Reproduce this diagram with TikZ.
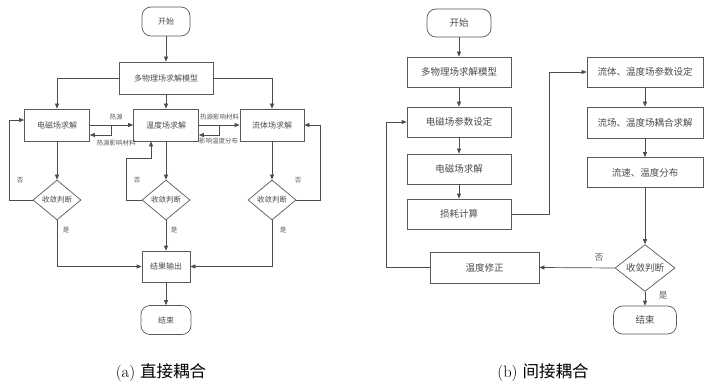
\documentclass[tikz,border=0pt]{standalone}
\usepackage{fontspec}
\newfontfamily\cjk{Noto Sans CJK SC}
\usetikzlibrary{positioning,arrows.meta,shapes.geometric,calc}
\begin{document}
\begin{tikzpicture}[x=1pt,y=-1pt,
  bx/.style={draw=black!65,fill=white,line width=0.7pt,text=black!70,inner sep=1pt,font=\cjk\fontsize{8}{9}\selectfont},
  bxb/.style={bx,font=\cjk\fontsize{9.5}{11}\selectfont},
  tm/.style={rounded corners=9pt},
  jd/.style={diamond,inner sep=0pt},
  lb/.style={text=black!65,inner sep=0pt,font=\cjk\fontsize{6.5}{7}\selectfont},
  lbb/.style={lb,font=\cjk\fontsize{8.5}{9}\selectfont},
  captxt/.style={font=\fontsize{16.5}{18}\selectfont},
  ar/.style={-{Triangle[length=5pt,width=4pt]},draw=black!70,line width=0.7pt}]
\useasboundingbox (0,0) rectangle (717,390);
% (a) direct coupling
\node[bx,tm,minimum width=48pt,minimum height=29pt] (startA) at (166,21.5) {开始};
\node[bx,minimum width=94pt,minimum height=32pt] (modelA) at (166,78) {多物理场求解模型};
\node[bx,minimum width=65pt,minimum height=32pt] (emA) at (57,125) {电磁场求解};
\node[bx,minimum width=65pt,minimum height=32pt] (thA) at (166,125) {温度场求解};
\node[bx,minimum width=64pt,minimum height=32pt] (flA) at (272,125) {流体场求解};
\node[bx,jd,minimum width=48pt,minimum height=40pt,font=\cjk\fontsize{7.5}{8}\selectfont] (jA1) at (57,200) {收敛判断};
\node[bx,jd,minimum width=48pt,minimum height=40pt,font=\cjk\fontsize{7.5}{8}\selectfont] (jA2) at (166,200) {收敛判断};
\node[bx,jd,minimum width=48pt,minimum height=40pt,font=\cjk\fontsize{7.5}{8}\selectfont] (jA3) at (272,200) {收敛判断};
\node[bx,minimum width=48pt,minimum height=31pt] (outA) at (166,266.5) {结果输出};
\node[bx,tm,minimum width=50pt,minimum height=29pt] (endA) at (166,320) {结束};
\draw[ar] (startA) -- (modelA);
\draw[ar] (modelA.west) -| (emA.north);
\draw[ar] (modelA) -- (thA);
\draw[ar] (modelA.east) -| (flA.north);
% coupling between the fields
\coordinate (mA1) at ($(emA.east)!.5!(thA.west)$);
\coordinate (mA2) at ($(thA.east)!.5!(flA.west)$);
\draw[ar] (emA.east) -- (thA.west);
\draw[ar] (mA1) |- ([yshift=-10pt]emA.east);
\draw[ar] (thA.east) -- (flA.west);
\draw[ar] (mA2) |- ([yshift=-10pt]thA.east);
\node[lb] (hsA) at (116,117) {热源};
\node[lb] (hmA1) at (116,143) {热源影响材料};
\node[lb] (hmA2) at (219.5,117) {热源影响材料};
\node[lb] (tdA) at (218.5,141) {影响温度分布};
% convergence loops
\draw[ar] (emA) -- (jA1);
\draw[ar] (thA) -- (jA2);
\draw[ar] (flA) -- (jA3);
\draw[ar] (jA1.west) -- ++(-23,0) |- ([yshift=5pt]emA.west);
\draw[ar] (jA2.west) -- ++(-15,0) |- ([xshift=-15pt,yshift=-17pt]thA.south) -- ([xshift=-15pt]thA.south);
\draw[ar] (jA3.east) -- ++(24,0) |- (flA.east);
\node[lb] (noA1) at (20,180) {否};
\node[lb] (noA2) at (137,180) {否};
\node[lb] (noA3) at (298,180) {否};
\draw[ar] (jA1.south) |- (outA.west);
\draw[ar] (jA2) -- (outA);
\draw[ar] (jA3.south) |- (outA.east);
\node[lb] (yesA1) at (66,230) {是};
\node[lb] (yesA2) at (174,230) {是};
\node[lb] (yesA3) at (283,230) {是};
\draw[ar] (outA) -- (endA);
\node[captxt] (capA) at (161,373) {(a) {\cjk 直接耦合}};
% (b) indirect coupling
\node[bxb,tm,minimum width=64pt,minimum height=28pt] (startB) at (459,23) {开始};
\node[bxb,minimum width=104pt,minimum height=30pt] (modelB) at (459,72) {多物理场求解模型};
\node[bxb,minimum width=104pt,minimum height=30pt] (emsetB) at (459,122) {电磁场参数设定};
\node[bxb,minimum width=104pt,minimum height=30pt] (emB) at (459,169) {电磁场求解};
\node[bxb,minimum width=104pt,minimum height=30pt] (lossB) at (459,214) {损耗计算};
\node[bxb,minimum width=116pt,minimum height=30pt] (flsetB) at (645,72) {流体、温度场参数设定};
\node[bxb,minimum width=116pt,minimum height=31pt] (cplB) at (645,122.5) {流场、温度场耦合求解};
\node[bxb,minimum width=116pt,minimum height=30pt] (distB) at (645,172.5) {流速、温度分布};
\node[bxb,jd,minimum width=60pt,minimum height=38pt] (jB) at (645,268) {收敛判断};
\node[bxb,minimum width=109pt,minimum height=31pt] (corrB) at (484.5,267.5) {温度修正};
\node[bxb,tm,minimum width=63pt,minimum height=28pt] (endB) at (645,320) {结束};
\draw[ar] (startB) -- (modelB);
\draw[ar] (modelB) -- (emsetB);
\draw[ar] (emsetB) -- (emB);
\draw[ar] (emB) -- (lossB);
\draw[ar] (lossB.east) -- ++(38,0) |- (flsetB.west);
\draw[ar] (flsetB) -- (cplB);
\draw[ar] (cplB) -- (distB);
\draw[ar] (distB) -- (jB);
\draw[ar] (jB.west) -- (corrB.east);
\draw[ar] (corrB.west) -- ++(-43,0) |- (emsetB.west);
\draw[ar] (jB) -- (endB);
\node[lbb] (noB) at (599,258) {否};
\node[lbb] (yesB) at (663,295) {是};
\node[captxt] (capB) at (543,373) {(b) {\cjk 间接耦合}};
\end{tikzpicture}
\end{document}
